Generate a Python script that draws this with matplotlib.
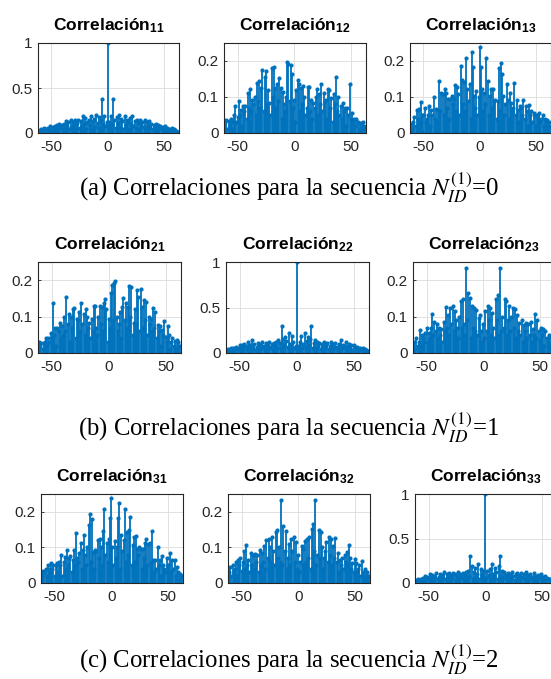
import numpy as np
import matplotlib
matplotlib.use("Agg")
import matplotlib.pyplot as plt

plt.rcParams['font.family'] = ['Liberation Sans', 'DejaVu Sans']
plt.rcParams['axes.unicode_minus'] = False
plt.rcParams['mathtext.fontset'] = 'custom'
plt.rcParams['mathtext.rm'] = 'Liberation Sans:bold'
plt.rcParams['mathtext.bf'] = 'Liberation Sans:bold'
plt.rcParams['mathtext.it'] = 'Liberation Sans:bold'

# ---------------- data ----------------
lags = np.arange(-62, 64)  # lag axis

# autocorrelation 11 (lags -62..-1, 0, 1..63)
c11 = [0.01, 0.02, 0.03, 0.05, 0.02, 0.06, 0.04, 0.05, 0.02, 0.06,
       0.05, 0.08, 0.03, 0.07, 0.05, 0.08, 0.06, 0.09, 0.03, 0.10,
       0.07, 0.09, 0.04, 0.10, 0.06, 0.13, 0.08, 0.12, 0.05, 0.14,
       0.07, 0.12, 0.09, 0.14, 0.04, 0.11, 0.15, 0.06, 0.13, 0.08,
       0.19, 0.10, 0.17, 0.05, 0.12, 0.15, 0.09, 0.19, 0.04, 0.13,
       0.16, 0.07, 0.20, 0.11, 0.18, 0.06, 0.14, 0.38, 0.10, 0.19,
       0.08, 0.12,
       1.00,
       0.12, 0.08, 0.19, 0.10, 0.38, 0.14, 0.06, 0.18, 0.11, 0.20,
       0.07, 0.16, 0.13, 0.04, 0.19, 0.09, 0.15, 0.12, 0.05, 0.17,
       0.10, 0.19, 0.08, 0.13, 0.06, 0.15, 0.11, 0.04, 0.14, 0.09,
       0.12, 0.07, 0.14, 0.05, 0.12, 0.08, 0.13, 0.06, 0.10, 0.04,
       0.09, 0.07, 0.10, 0.03, 0.09, 0.06, 0.08, 0.05, 0.07, 0.03,
       0.08, 0.05, 0.06, 0.02, 0.05, 0.04, 0.06, 0.02, 0.05, 0.03,
       0.02, 0.01, 0.01]

c12 = [0.02, 0.03, 0.036, 0.01, 0.034, 0.02, 0.04, 0.03, 0.01, 0.05,
       0.074, 0.03, 0.045, 0.088, 0.05, 0.064, 0.02, 0.074, 0.06, 0.076,
       0.04, 0.112, 0.07, 0.123, 0.06, 0.093, 0.08, 0.10, 0.05, 0.14,
       0.09, 0.145, 0.07, 0.126, 0.176, 0.06, 0.155, 0.173, 0.08, 0.12,
       0.083, 0.05, 0.18, 0.10, 0.184, 0.126, 0.07, 0.136, 0.09, 0.152,
       0.126, 0.04, 0.114, 0.08, 0.06, 0.10, 0.197, 0.192, 0.09, 0.188,
       0.164, 0.07,
       0.093,
       0.03, 0.12, 0.148, 0.136, 0.06, 0.126, 0.08, 0.13, 0.10, 0.05,
       0.07, 0.129, 0.129, 0.06, 0.093, 0.04, 0.082, 0.07, 0.10, 0.121,
       0.05, 0.107, 0.08, 0.136, 0.06, 0.112, 0.09, 0.093, 0.04, 0.123,
       0.12, 0.07, 0.098, 0.03, 0.107, 0.08, 0.155, 0.06, 0.10, 0.05,
       0.074, 0.04, 0.083, 0.06, 0.069, 0.02, 0.069, 0.05, 0.136, 0.04,
       0.055, 0.03, 0.04, 0.02, 0.04, 0.03, 0.027, 0.01, 0.027, 0.02,
       0.03, 0.02, 0.01]

c13 = [0.02, 0.025, 0.01, 0.03, 0.045, 0.02, 0.064, 0.04, 0.066, 0.03,
       0.085, 0.05, 0.05, 0.069, 0.03, 0.04, 0.05, 0.076, 0.02, 0.064,
       0.05, 0.10, 0.04, 0.066, 0.03, 0.064, 0.145, 0.06, 0.112, 0.109,
       0.05, 0.123, 0.112, 0.07, 0.095, 0.04, 0.095, 0.102, 0.08, 0.095,
       0.133, 0.06, 0.129, 0.107, 0.05, 0.185, 0.148, 0.08, 0.142, 0.06,
       0.209, 0.121, 0.09, 0.136, 0.04, 0.224, 0.183, 0.102, 0.07, 0.117,
       0.05, 0.10,
       0.238,
       0.183, 0.123, 0.06, 0.112, 0.08, 0.207, 0.145, 0.05, 0.102, 0.123,
       0.07, 0.121, 0.09, 0.093, 0.04, 0.088, 0.18, 0.06, 0.195, 0.164,
       0.102, 0.05, 0.08, 0.136, 0.093, 0.04, 0.112, 0.083, 0.06, 0.07,
       0.14, 0.05, 0.093, 0.064, 0.03, 0.076, 0.07, 0.05, 0.093, 0.04,
       0.074, 0.06, 0.02, 0.079, 0.05, 0.06, 0.03, 0.055, 0.05, 0.02,
       0.05, 0.04, 0.055, 0.03, 0.04, 0.05, 0.02, 0.04, 0.03, 0.035,
       0.02, 0.03, 0.02]

c21 = [0.02, 0.03, 0.02, 0.027, 0.01, 0.027, 0.03, 0.04, 0.02, 0.04,
       0.03, 0.055, 0.04, 0.136, 0.05, 0.069, 0.02, 0.069, 0.06, 0.083,
       0.04, 0.074, 0.05, 0.10, 0.06, 0.155, 0.08, 0.107, 0.03, 0.098,
       0.07, 0.12, 0.123, 0.04, 0.093, 0.09, 0.112, 0.06, 0.136, 0.08,
       0.107, 0.05, 0.121, 0.10, 0.07, 0.082, 0.04, 0.093, 0.06, 0.129,
       0.129, 0.07, 0.05, 0.10, 0.13, 0.08, 0.126, 0.06, 0.136, 0.148,
       0.12, 0.03,
       0.093,
       0.07, 0.164, 0.188, 0.09, 0.192, 0.197, 0.10, 0.06, 0.08, 0.114,
       0.04, 0.126, 0.152, 0.09, 0.136, 0.07, 0.126, 0.184, 0.10, 0.18,
       0.05, 0.083, 0.12, 0.08, 0.173, 0.155, 0.06, 0.176, 0.126, 0.07,
       0.145, 0.09, 0.14, 0.05, 0.10, 0.08, 0.093, 0.06, 0.123, 0.07,
       0.112, 0.04, 0.076, 0.06, 0.074, 0.02, 0.064, 0.05, 0.088, 0.045,
       0.03, 0.074, 0.05, 0.01, 0.03, 0.04, 0.02, 0.034, 0.01, 0.036,
       0.03, 0.02, 0.02]

c22 = [0.02, 0.03, 0.045, 0.02, 0.05, 0.04, 0.06, 0.03, 0.05, 0.07,
       0.04, 0.06, 0.085, 0.03, 0.09, 0.05, 0.10, 0.08, 0.04, 0.12,
       0.07, 0.09, 0.05, 0.14, 0.06, 0.10, 0.03, 0.07, 0.11, 0.05,
       0.10, 0.06, 0.12, 0.08, 0.04, 0.11, 0.09, 0.05, 0.12, 0.07,
       0.10, 0.04, 0.11, 0.08, 0.12, 0.05, 0.14, 0.11, 0.06, 0.30,
       0.15, 0.09, 0.175, 0.13, 0.07, 0.22, 0.10, 0.06, 0.19, 0.12,
       0.05, 0.08,
       1.00,
       0.08, 0.05, 0.12, 0.19, 0.06, 0.10, 0.22, 0.07, 0.13, 0.175,
       0.09, 0.15, 0.30, 0.06, 0.11, 0.14, 0.05, 0.12, 0.08, 0.11,
       0.04, 0.10, 0.07, 0.12, 0.05, 0.09, 0.11, 0.04, 0.08, 0.12,
       0.06, 0.10, 0.05, 0.11, 0.07, 0.03, 0.10, 0.06, 0.14, 0.05,
       0.09, 0.07, 0.12, 0.04, 0.08, 0.10, 0.05, 0.09, 0.03, 0.085,
       0.06, 0.04, 0.07, 0.05, 0.03, 0.06, 0.04, 0.05, 0.02, 0.045,
       0.03, 0.02, 0.02]

c23 = [0.02, 0.03, 0.01, 0.04, 0.02, 0.03, 0.063, 0.02, 0.05, 0.04,
       0.03, 0.055, 0.068, 0.03, 0.056, 0.04, 0.07, 0.108, 0.05, 0.086,
       0.06, 0.08, 0.04, 0.07, 0.05, 0.066, 0.03, 0.084, 0.06, 0.127,
       0.07, 0.105, 0.05, 0.123, 0.08, 0.128, 0.06, 0.115, 0.09, 0.07,
       0.04, 0.10, 0.142, 0.07, 0.149, 0.08, 0.05, 0.233, 0.09, 0.166,
       0.152, 0.04, 0.128, 0.07, 0.123, 0.06, 0.118, 0.05, 0.095, 0.105,
       0.06, 0.03,
       0.08,
       0.04, 0.115, 0.06, 0.128, 0.09, 0.125, 0.05, 0.11, 0.07, 0.04,
       0.147, 0.09, 0.16, 0.05, 0.233, 0.06, 0.10, 0.07, 0.149, 0.142,
       0.05, 0.09, 0.128, 0.06, 0.10, 0.125, 0.07, 0.12, 0.04, 0.105,
       0.06, 0.083, 0.05, 0.092, 0.03, 0.078, 0.06, 0.082, 0.04, 0.08,
       0.05, 0.085, 0.03, 0.065, 0.05, 0.108, 0.04, 0.09, 0.06, 0.035,
       0.07, 0.05, 0.065, 0.02, 0.06, 0.04, 0.03, 0.05, 0.02, 0.045,
       0.03, 0.02, 0.01]

c31 = [0.03, 0.02, 0.035, 0.03, 0.04, 0.02, 0.05, 0.04, 0.03, 0.055,
       0.04, 0.05, 0.02, 0.05, 0.055, 0.03, 0.06, 0.05, 0.079, 0.02,
       0.06, 0.074, 0.04, 0.093, 0.05, 0.07, 0.076, 0.03, 0.064, 0.093,
       0.05, 0.14, 0.07, 0.06, 0.083, 0.112, 0.04, 0.093, 0.136, 0.08,
       0.05, 0.102, 0.164, 0.195, 0.06, 0.18, 0.088, 0.04, 0.093, 0.09,
       0.121, 0.07, 0.123, 0.102, 0.05, 0.145, 0.207, 0.08, 0.112, 0.06,
       0.123, 0.183,
       0.238,
       0.10, 0.05, 0.117, 0.07, 0.102, 0.183, 0.224, 0.04, 0.136, 0.09,
       0.121, 0.209, 0.06, 0.142, 0.08, 0.148, 0.185, 0.05, 0.107, 0.129,
       0.06, 0.133, 0.095, 0.08, 0.102, 0.095, 0.04, 0.095, 0.07, 0.112,
       0.123, 0.05, 0.109, 0.112, 0.06, 0.145, 0.064, 0.03, 0.066, 0.04,
       0.10, 0.05, 0.064, 0.02, 0.076, 0.05, 0.04, 0.03, 0.069, 0.05,
       0.05, 0.085, 0.03, 0.066, 0.04, 0.064, 0.02, 0.045, 0.03, 0.01,
       0.025, 0.02, 0.02]

c32 = [0.02, 0.03, 0.045, 0.02, 0.05, 0.03, 0.04, 0.06, 0.02, 0.065,
       0.05, 0.07, 0.035, 0.06, 0.09, 0.04, 0.108, 0.05, 0.065, 0.03,
       0.085, 0.05, 0.08, 0.04, 0.082, 0.06, 0.078, 0.03, 0.092, 0.05,
       0.083, 0.06, 0.105, 0.04, 0.12, 0.07, 0.125, 0.10, 0.06, 0.128,
       0.09, 0.05, 0.142, 0.149, 0.07, 0.10, 0.06, 0.233, 0.05, 0.16,
       0.09, 0.147, 0.04, 0.07, 0.11, 0.05, 0.125, 0.09, 0.128, 0.06,
       0.115, 0.04,
       0.08,
       0.03, 0.06, 0.105, 0.095, 0.05, 0.118, 0.06, 0.123, 0.07, 0.128,
       0.04, 0.152, 0.166, 0.09, 0.233, 0.05, 0.08, 0.149, 0.07, 0.142,
       0.10, 0.04, 0.07, 0.09, 0.115, 0.06, 0.128, 0.08, 0.123, 0.05,
       0.105, 0.07, 0.127, 0.06, 0.084, 0.03, 0.066, 0.05, 0.07, 0.04,
       0.08, 0.06, 0.086, 0.05, 0.108, 0.07, 0.04, 0.056, 0.03, 0.068,
       0.055, 0.03, 0.04, 0.05, 0.02, 0.063, 0.03, 0.02, 0.04, 0.01,
       0.03, 0.02, 0.02]

c33 = [0.03, 0.02, 0.03, 0.04, 0.02, 0.05, 0.04, 0.06, 0.03, 0.08,
       0.05, 0.07, 0.04, 0.10, 0.06, 0.09, 0.03, 0.08, 0.06, 0.11,
       0.05, 0.07, 0.10, 0.04, 0.09, 0.06, 0.12, 0.05, 0.10, 0.07,
       0.11, 0.04, 0.09, 0.06, 0.11, 0.10, 0.03, 0.08, 0.12, 0.05,
       0.10, 0.07, 0.11, 0.04, 0.09, 0.12, 0.06, 0.13, 0.08, 0.30,
       0.19, 0.05, 0.12, 0.17, 0.07, 0.10, 0.21, 0.05, 0.16, 0.09,
       0.14, 0.06,
       1.00,
       0.06, 0.14, 0.09, 0.16, 0.05, 0.21, 0.10, 0.07, 0.17, 0.12,
       0.05, 0.19, 0.30, 0.08, 0.13, 0.06, 0.12, 0.09, 0.04, 0.11,
       0.07, 0.10, 0.05, 0.12, 0.08, 0.03, 0.10, 0.11, 0.06, 0.09,
       0.04, 0.11, 0.07, 0.10, 0.05, 0.12, 0.06, 0.09, 0.04, 0.10,
       0.07, 0.05, 0.11, 0.06, 0.08, 0.03, 0.09, 0.06, 0.10, 0.04,
       0.07, 0.05, 0.08, 0.03, 0.06, 0.04, 0.05, 0.02, 0.04, 0.03,
       0.02, 0.03, 0.01]

panels = [["11", "12", "13"], ["21", "22", "23"], ["31", "32", "33"]]
series = {"11": c11, "12": c12, "13": c13, "21": c21, "22": c22,
          "23": c23, "31": c31, "32": c32, "33": c33}
auto = {"11", "22", "33"}
captions = [r"(a) Correlaciones para la secuencia $N_{ID}^{(1)}$=0",
            r"(b) Correlaciones para la secuencia $N_{ID}^{(1)}$=1",
            r"(c) Correlaciones para la secuencia $N_{ID}^{(1)}$=2"]

# ---------------- layout ----------------
W, H = 551, 679
fig = plt.figure(figsize=(W / 100, H / 100), dpi=100)
row_y = [(43, 133), (262, 353), (494, 583)]
col_x = [[(38, 179), (224, 366), (410, 551)],
         [(38, 181), (226, 369), (413, 555)],
         [(41, 183), (228, 370), (415, 557)]]
cap_y = [196, 436, 668]
blue = '#0072BD'

for r in range(3):
    y0, y1 = row_y[r]
    for c in range(3):
        x0, x1 = col_x[r][c]
        ax = fig.add_axes([x0 / W, 1 - y1 / H, (x1 - x0) / W, (y1 - y0) / H])
        key = panels[r][c]
        vals = np.array(series[key])
        ml, sl, bl = ax.stem(lags, vals, linefmt='-', markerfmt='o', basefmt=' ')
        sl.set_color(blue)
        sl.set_linewidth(1.3)
        ml.set_color(blue)
        ml.set_markersize(2.0)
        ax.set_xlim(-62, 63.5)
        if key in auto:
            ax.set_ylim(0, 1)
            ax.set_yticks([0, 0.5, 1])
            ax.set_yticklabels(['0', '0.5', '1'])
        else:
            ax.set_ylim(0, 0.25)
            ax.set_yticks([0, 0.1, 0.2])
            ax.set_yticklabels(['0', '0.1', '0.2'])
        ax.set_xticks([-50, 0, 50])
        ax.set_xticklabels(['-50', '0', '50'])
        ax.grid(True, color='#dcdcdc', linewidth=0.6)
        ax.set_axisbelow(True)
        for s in ax.spines.values():
            s.set_color('#262626')
            s.set_linewidth(0.8)
        ax.tick_params(direction='in', length=2.5, width=0.6, colors='#262626',
                       labelsize=11, labelcolor='#262626')
        ax.tick_params(axis='x', pad=5)
        ax.tick_params(axis='y', pad=4)
        ax.set_title('Correlación$_{' + key + '}$', fontsize=12.5,
                     fontweight='bold', pad=9, color='black')
    fig.text(289 / W, 1 - cap_y[r] / H, captions[r], ha='center', va='baseline',
             fontsize=17.8, family='Liberation Serif', math_fontfamily='stix')

fig.savefig('out.png', dpi=100)
